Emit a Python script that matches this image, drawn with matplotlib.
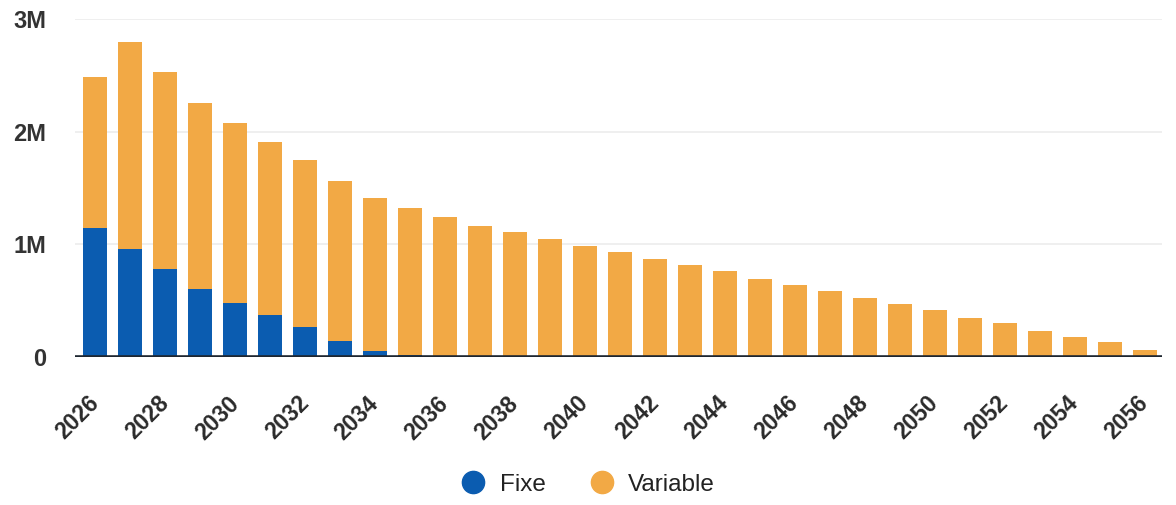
import numpy as np
import matplotlib.pyplot as plt
import matplotlib.transforms as mtransforms
from matplotlib.lines import Line2D

plt.rcParams['font.family'] = ['Liberation Sans', 'DejaVu Sans']

years = list(range(2026, 2057))
# values in millions
fixe = [1.15, 0.96, 0.78, 0.60, 0.48, 0.37, 0.27, 0.14, 0.05, 0.02,
        0.012, 0.01, 0.01, 0.008, 0.008, 0.007, 0.007, 0.006, 0.006, 0.005,
        0.005, 0.005, 0.004, 0.004, 0.004, 0.003, 0.003, 0.003, 0.002, 0.002, 0.002]
total = [2.49, 2.80, 2.53, 2.26, 2.08, 1.91, 1.75, 1.56, 1.41, 1.32,
         1.24, 1.16, 1.11, 1.05, 0.99, 0.93, 0.87, 0.82, 0.76, 0.69,
         0.64, 0.59, 0.52, 0.47, 0.42, 0.35, 0.30, 0.23, 0.18, 0.13, 0.06]
variable = [t - f for t, f in zip(total, fixe)]

c_fixe = '#0b5cb0'
c_var = '#f2a945'

fig = plt.figure(figsize=(11.76, 5.05), dpi=100)
ax = fig.add_axes([0.064, 0.293, 0.924, 0.669])

x = np.arange(len(years))
fixe_v = np.array(fixe) * 1e6
var_v = np.array(variable) * 1e6
ax.bar(x, fixe_v, width=0.69, color=c_fixe, zorder=3)
ax.bar(x, var_v, width=0.69, bottom=fixe_v, color=c_var, zorder=3)

ax.set_ylim(0, 3e6)
ax.set_xlim(-0.57, 30.49)
ax.set_yticks([0, 1e6, 2e6, 3e6])
ax.set_yticklabels(['0', '1M', '2M', '3M'], fontsize=17, fontweight='bold', color='#333333')
ax.grid(axis='y', color='#ececec', linewidth=1.2, zorder=0)
ax.axhline(0, color='#1e2630', linewidth=2.6, zorder=4)

ax.set_xticks(x[::2])
ax.set_xticklabels([str(y) for y in years[::2]], rotation=45, ha='right',
                   rotation_mode='anchor', fontsize=16.5, fontweight='bold', color='#2a2a2a')
ax.tick_params(axis='both', length=0)
ax.tick_params(axis='x', pad=25)
ax.tick_params(axis='y', pad=21)
shift = mtransforms.ScaledTranslation(-8 / 100, 0, fig.dpi_scale_trans)
for lab in ax.get_xticklabels():
    lab.set_transform(lab.get_transform() + shift)
for s in ax.spines.values():
    s.set_visible(False)

handles = [Line2D([], [], marker='o', linestyle='', markersize=16, color=c_fixe),
           Line2D([], [], marker='o', linestyle='', markersize=16, color=c_var)]
fig.legend(handles, ['Fixe', 'Variable'], loc='center', bbox_to_anchor=(0.5, 0.04),
           ncol=2, frameon=False, fontsize=17.5, handlelength=1.0, handletextpad=0.6,
           columnspacing=1.8, borderpad=0.2, labelcolor='#222222')

fig.savefig('out.png', dpi=100)
